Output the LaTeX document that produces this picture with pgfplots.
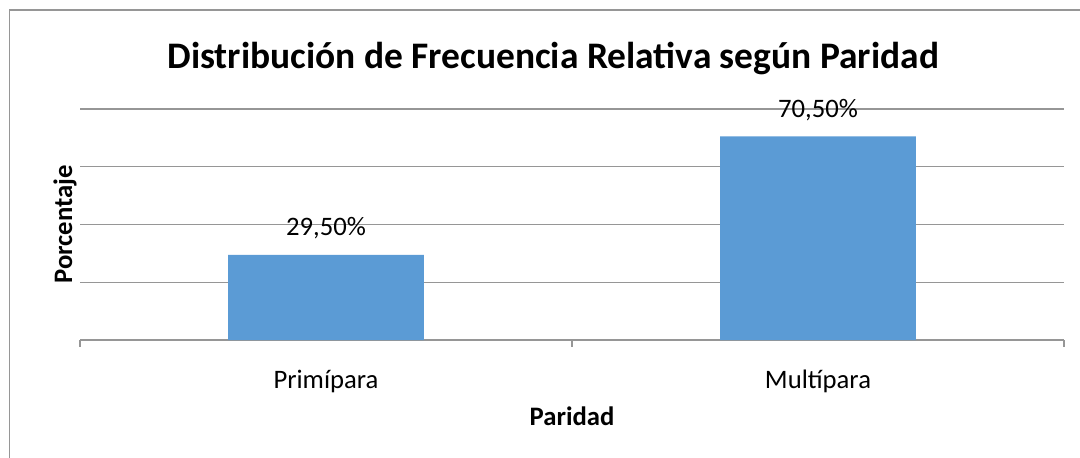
\documentclass[border=0pt]{standalone}
\usepackage{pgfplots}
\pgfplotsset{compat=1.18}
\usepackage{fontspec}
\setmainfont{Carlito}
\definecolor{barblue}{RGB}{91,155,213}
\definecolor{gridgray}{RGB}{150,150,150}
\begin{document}
\begin{tikzpicture}
\path[use as bounding box] (0,0) rectangle (810pt,342.75pt);
\draw[gridgray, line width=0.8pt] (7.1pt,-1pt) -- (7.1pt,335.25pt) -- (811pt,335.25pt);
\begin{axis}[
  at={(60pt,87.75pt)}, anchor=south west,
  scale only axis, width=738pt, height=173.25pt,
  xmin=-0.5, xmax=1.5, ymin=0, ymax=80,
  axis x line*=bottom, axis y line*=left,
  x axis line style={gridgray, line width=0.8pt, -},
  y axis line style={draw=none},
  xtick={0,1}, xticklabels={Primípara, Multípara},
  minor xtick={-0.5,0.5,1.5},
  major x tick style={draw=none},
  minor x tick style={gridgray, line width=0.8pt},
  minor tick length=5pt, tick align=outside,
  ytick={0,20,40,60,80}, yticklabels={}, ytick style={draw=none},
  ymajorgrids, grid style={gridgray, line width=0.8pt},
  xticklabel style={font=\fontsize{20}{24}\selectfont, anchor=base, yshift=-32.25pt},
  xlabel={Paridad},
  xlabel style={font=\fontsize{20}{24}\selectfont\bfseries, at={(axis description cs:0.5,0)}, anchor=base, yshift=-63.75pt},
  title={Distribución de Frecuencia Relativa según Paridad},
  title style={font=\fontsize{28.1}{34}\selectfont\bfseries, at={(axis description cs:0.481,1)}, anchor=base, yshift=24.5pt},
  ybar, bar width=0.398, bar shift=0pt,
  point meta=explicit symbolic,
  nodes near coords,
  nodes near coords style={font=\fontsize{20}{24}\selectfont, anchor=base, yshift=14.25pt, inner sep=0pt},
]
\addplot[fill=barblue, draw=none] coordinates {(0,29.5) [29,50\%] (1,70.5) [70,50\%]};
\end{axis}
\node[rotate=90, anchor=base, inner sep=0pt, font=\fontsize{20}{24}\selectfont\bfseries] at (54pt,174.4pt) {Porcentaje};
\end{tikzpicture}
\end{document}
